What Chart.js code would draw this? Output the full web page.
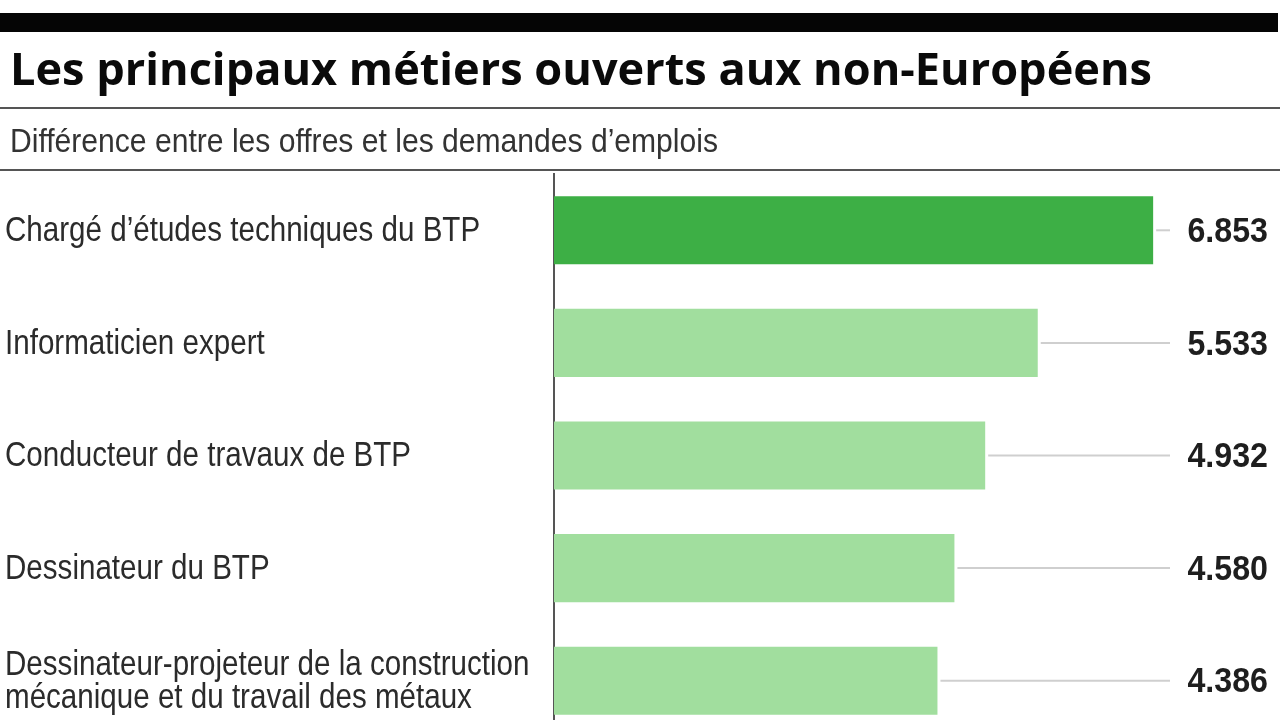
<!DOCTYPE html>
<html>
<head>
<meta charset="utf-8">
<script src="https://cdn.jsdelivr.net/npm/chart.js@4"></script>
<style>
  html, body { margin: 0; padding: 0; background: #fff; overflow: hidden; }
  #wrap { position: relative; width: 1280px; height: 740px; }
</style>
</head>
<body>
<div id="wrap"><canvas id="chart" width="1280" height="740"></canvas></div>
<script>
// Data
const titleText = 'Les principaux métiers ouverts aux non-Européens';
const subtitleText = 'Différence entre les offres et les demandes d\u2019emplois';
const jobs = [
  'Chargé d\u2019études techniques du BTP',
  'Informaticien expert',
  'Conducteur de travaux de BTP',
  'Dessinateur du BTP',
  ['Dessinateur-projeteur de la construction', 'mécanique et du travail des métaux']
];
const gaps = [6853, 5533, 4932, 4580, 4386];
const barColors = ['#3daf45', '#a1de9e', '#a1de9e', '#a1de9e', '#a1de9e'];

// no condensed face installed, so Liberation Sans gets squeezed horizontally
const plainFont = '"Liberation Sans", Arial, sans-serif';
const squeeze = 0.845;

// French style thousands separator: 6853 -> 6.853
function formatGap(v) {
  return String(v).replace(/\B(?=(\d{3})+(?!\d))/g, '.');
}

// draw text squeezed to a given width
function fitText(ctx, text, x, y, width) {
  const w = ctx.measureText(text).width;
  ctx.save();
  ctx.translate(x, y);
  ctx.scale(width / w, 1);
  ctx.fillText(text, 0, 0);
  ctx.restore();
}

// draw text with a fixed horizontal squeeze
function narrowText(ctx, text, x, y, k) {
  ctx.save();
  ctx.translate(x, y);
  ctx.scale(k, 1);
  ctx.fillText(text, 0, 0);
  ctx.restore();
}

/**
 * Header: black band, title, rules, subtitle
 */
const headerPlugin = {
  id: 'header',
  beforeDraw(chart) {
    const ctx = chart.ctx;
    ctx.save();
    ctx.fillStyle = '#fff';
    ctx.fillRect(0, 0, chart.width, chart.height);

    ctx.fillStyle = '#050505';
    ctx.fillRect(0, 13, 1278, 19);

    ctx.fillStyle = '#0a0a0a';
    ctx.font = 'bold 45px "Open Sans", sans-serif';
    ctx.textBaseline = 'alphabetic';
    ctx.textAlign = 'left';
    fitText(ctx, titleText, 10, 85, 1142);

    ctx.fillStyle = '#555';
    ctx.fillRect(0, 107, 1280, 2);
    ctx.fillRect(0, 169, 1280, 2);

    ctx.fillStyle = '#333';
    ctx.font = '33px ' + plainFont;
    fitText(ctx, subtitleText, 10, 152, 708);
    ctx.restore();
  }
};

/**
 * Category labels on the left, placed from the y scale ticks
 */
const labelPlugin = {
  id: 'jobLabels',
  afterDraw(chart) {
    const ctx = chart.ctx;
    const yScale = chart.scales.y;
    ctx.save();
    ctx.fillStyle = '#2b2b2b';
    ctx.font = '35px ' + plainFont;
    ctx.textAlign = 'left';
    ctx.textBaseline = 'middle';
    chart.data.labels.forEach((label, i) => {
      const y = yScale.getPixelForTick(i);
      const lines = Array.isArray(label) ? label : [label];
      const lh = 33;
      const top = y - (lines.length - 1) * lh / 2;
      lines.forEach((line, j) => narrowText(ctx, line, 5, top + j * lh + 1, squeeze));
    });
    ctx.restore();
  }
};

/**
 * Leader lines and value labels on the right
 */
const valuePlugin = {
  id: 'values',
  afterDatasetsDraw(chart) {
    const ctx = chart.ctx;
    const meta = chart.getDatasetMeta(0);
    const right = chart.chartArea.right;
    ctx.save();
    meta.data.forEach((bar, i) => {
      ctx.strokeStyle = '#cfcfcf';
      ctx.lineWidth = 2;
      ctx.beginPath();
      ctx.moveTo(bar.x + 3, bar.y);
      ctx.lineTo(right + 4, bar.y);
      ctx.stroke();

      ctx.fillStyle = '#1e1e1e';
      ctx.font = 'bold 35px ' + plainFont;
      ctx.textAlign = 'right';
      ctx.textBaseline = 'middle';
      narrowText(ctx, formatGap(gaps[i]), 1268, bar.y + 2, 0.92);
    });
    ctx.restore();
  }
};

const ctx = document.getElementById('chart').getContext('2d');
new Chart(ctx, {
  type: 'bar',
  data: {
    labels: jobs,
    datasets: [{
      data: gaps,
      backgroundColor: barColors,
      borderWidth: 0,
      categoryPercentage: 1,
      barPercentage: 0.605
    }]
  },
  options: {
    indexAxis: 'y',
    responsive: false,
    animation: false,
    layout: { padding: { top: 174, bottom: 3, left: 5, right: 114 } },
    plugins: {
      legend: { display: false },
      tooltip: { enabled: false }
    },
    scales: {
      x: {
        display: false,
        min: 0,
        max: 7000
      },
      y: {
        grid: { display: false },
        border: { display: true, color: '#555', width: 2 },
        ticks: { display: false },
        afterFit(scale) {
          scale.width = 549;
          scale.paddingTop = 0;
          scale.paddingBottom = 0;
        }
      }
    }
  },
  plugins: [headerPlugin, valuePlugin, labelPlugin]
});
</script>
</body>
</html>
